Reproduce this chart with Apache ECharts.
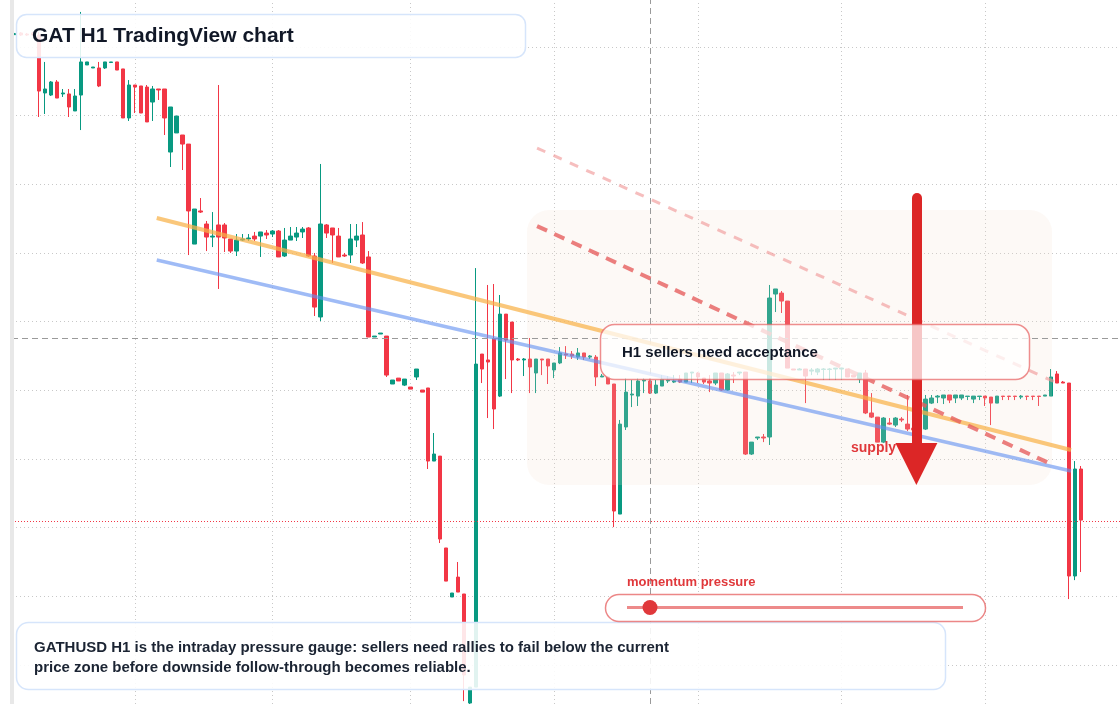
<!DOCTYPE html>
<html><head><meta charset="utf-8">
<script src="https://cdn.jsdelivr.net/npm/echarts@6/dist/echarts.min.js"></script>
<style>html,body{margin:0;padding:0;background:#fff}#c{width:1120px;height:704px}</style>
</head><body><div id="c"></div>
<script>
// ---- data (GATHUSD, H1 candles) ----
const openP = [
14.090,14.102,14.094,14.102,14.087,13.665,13.650,13.745,13.658,13.658,
13.534,13.650,13.869,13.847,13.847,13.847,13.887,13.891,13.840,13.483,
13.723,13.716,13.708,13.599,13.694,13.694,13.235,13.374,13.359,13.293,
12.565,12.806,12.711,12.616,12.704,12.704,12.602,12.514,12.594,12.602,
12.623,12.623,12.645,12.638,12.660,12.478,12.594,12.616,12.653,12.682,
12.478,12.034,12.704,12.682,12.623,12.485,12.485,12.594,12.631,12.471,
11.888,11.910,11.895,11.546,11.589,11.538,11.524,11.597,11.502,11.517,
10.985,11.021,10.352,9.995,10.140,10.017,9.223,9.339,11.764,11.721,
11.873,11.458,12.055,11.997,11.728,11.721,11.728,11.626,11.728,11.728,
11.648,11.699,11.764,11.764,11.742,11.772,11.742,11.742,11.597,11.597,
11.546,10.599,11.233,11.466,11.458,11.568,11.568,11.480,11.531,11.568,
11.560,11.582,11.560,11.626,11.626,11.589,11.568,11.553,11.626,11.502,
11.611,11.626,11.633,11.036,11.153,11.160,11.160,12.201,12.208,12.150,
11.655,11.648,11.655,11.640,11.633,11.652,11.652,11.655,11.655,11.655,
11.611,11.582,11.626,11.335,11.305,11.123,11.262,11.247,11.291,11.254,
11.225,11.211,11.218,11.407,11.451,11.444,11.466,11.444,11.444,11.455,
11.436,11.455,11.458,11.451,11.407,11.458,11.458,11.458,11.451,11.458,
11.458,11.458,11.458,11.458,11.619,11.560,11.553,10.148,10.927];
const closeP = [
14.096,14.087,14.087,14.087,13.679,13.694,13.745,13.628,13.665,13.563,
13.643,13.891,13.891,13.854,13.716,13.891,13.891,13.832,13.483,13.723,
13.708,13.519,13.454,13.694,13.687,13.483,13.563,13.497,13.293,12.806,
12.820,12.798,12.616,12.623,12.616,12.609,12.514,12.594,12.602,12.609,
12.602,12.653,12.631,12.660,12.471,12.594,12.623,12.645,12.674,12.478,
12.106,12.711,12.645,12.631,12.471,12.478,12.602,12.623,12.427,11.888,
11.895,11.917,11.611,11.575,11.568,11.582,11.509,11.655,11.487,10.985,
11.036,10.417,10.111,10.024,10.031,9.427,9.339,11.691,11.655,11.706,
11.364,12.055,11.866,11.721,11.721,11.728,11.670,11.728,11.721,11.677,
11.699,11.772,11.757,11.750,11.772,11.742,11.750,11.597,11.604,11.546,
10.621,11.254,11.487,11.473,11.568,11.575,11.480,11.538,11.582,11.575,
11.568,11.560,11.626,11.633,11.597,11.560,11.553,11.626,11.502,11.619,
11.604,11.633,11.036,11.123,11.160,11.153,12.172,12.238,12.150,11.662,
11.648,11.655,11.604,11.648,11.655,11.655,11.655,11.662,11.662,11.597,
11.597,11.626,11.335,11.305,11.123,11.298,11.254,11.298,11.284,11.218,
11.211,11.225,11.436,11.444,11.458,11.466,11.429,11.466,11.466,11.458,
11.458,11.458,11.444,11.407,11.458,11.455,11.455,11.455,11.458,11.455,
11.455,11.455,11.466,11.597,11.553,11.553,10.148,10.927,10.555];
const lowP = [
14.087,14.080,14.080,14.087,13.490,13.512,13.643,13.628,13.636,13.490,
13.534,13.395,13.869,13.847,13.708,13.840,13.883,13.832,13.483,13.461,
13.519,13.519,13.454,13.461,13.614,13.359,13.126,13.374,13.104,12.485,
12.565,12.791,12.514,12.543,12.238,12.507,12.500,12.478,12.587,12.587,
12.587,12.471,12.602,12.616,12.471,12.471,12.594,12.587,12.609,12.471,
12.041,12.004,12.609,12.427,12.471,12.471,12.427,12.543,12.420,11.888,
11.888,11.910,11.597,11.546,11.568,11.531,11.509,11.575,11.487,10.927,
10.985,10.388,10.111,9.995,10.031,9.237,9.216,9.339,11.553,11.298,
11.218,11.451,11.582,11.480,11.713,11.604,11.480,11.480,11.611,11.546,
11.589,11.691,11.728,11.728,11.721,11.721,11.728,11.531,11.597,11.546,
10.504,10.599,11.211,11.378,11.386,11.480,11.473,11.473,11.531,11.553,
11.553,11.553,11.560,11.553,11.553,11.546,11.487,11.538,11.495,11.495,
11.553,11.611,11.029,11.029,11.138,11.123,11.102,12.070,12.063,11.662,
11.648,11.648,11.407,11.611,11.611,11.575,11.575,11.575,11.575,11.597,
11.597,11.553,11.327,11.298,11.123,11.116,11.247,11.233,11.269,11.203,
11.196,11.203,11.211,11.400,11.407,11.400,11.407,11.407,11.429,11.429,
11.407,11.429,11.386,11.247,11.407,11.429,11.429,11.429,11.436,11.429,
11.429,11.386,11.458,11.458,11.553,11.553,9.980,10.118,10.177];
const highP = [
14.102,14.109,14.102,14.109,14.109,13.891,13.752,13.759,13.694,13.694,
13.694,14.255,13.891,13.854,13.891,13.891,13.891,13.891,13.840,13.759,
13.723,13.716,13.723,13.716,13.694,13.694,13.563,13.497,13.359,13.293,
12.820,12.900,12.733,12.798,13.723,12.718,12.602,12.638,12.638,12.638,
12.653,12.653,12.667,12.667,12.667,12.682,12.689,12.689,12.689,12.689,
12.500,13.148,12.711,12.682,12.682,12.500,12.711,12.711,12.725,12.514,
11.895,11.917,11.895,11.575,11.589,11.582,11.524,11.655,11.502,11.517,
11.189,11.021,10.352,10.024,10.250,10.017,9.339,12.390,11.764,12.267,
12.274,12.194,12.055,11.997,11.735,11.735,11.881,11.728,11.728,11.728,
11.699,11.815,11.822,11.786,11.808,11.772,11.757,11.757,11.619,11.597,
11.546,11.284,11.589,11.575,11.589,11.589,11.589,11.575,11.611,11.604,
11.611,11.611,11.626,11.633,11.633,11.589,11.611,11.626,11.626,11.626,
11.633,11.633,11.633,11.123,11.160,11.182,12.267,12.238,12.223,12.150,
11.655,11.662,11.655,11.662,11.662,11.662,11.662,11.662,11.662,11.655,
11.611,11.626,11.648,11.480,11.305,11.305,11.298,11.305,11.305,11.466,
11.247,11.240,11.466,11.466,11.466,11.466,11.466,11.466,11.466,11.458,
11.458,11.458,11.458,11.451,11.458,11.458,11.458,11.458,11.466,11.458,
11.458,11.458,11.466,11.655,11.640,11.568,11.553,10.985,10.949];

// day separators (candle index), crosshair and levels
const dayBreaks = [20, 43, 66, 90, 114, 138, 162];
const priceTicks = [9.5, 10.0, 10.5, 11.0, 11.5, 12.0, 12.5, 13.0, 13.5, 14.0];
const crosshairIndex = 106;
const crosshairPrice = 11.881;
const lastPrice = 10.555;
// trend lines: [candle index, price]
const upperTrend = [[23.67, 12.755], [176.33, 11.065]];
const lowerTrend = [[23.67, 12.449], [176.33, 10.912]];
const supplyDashed = [[87.17, 12.696], [173.0, 10.963]];
const outerDashed = [[87.17, 13.264], [173.67, 11.560]];
const arrowPath = [[150.5, 12.900], [150.5, 10.963]];
// visible price range
const priceMin = 9.216, priceMax = 14.342;
const slotCount = 185;

const categories = [];
const t0 = Date.UTC(2025, 4, 11, 4);
for (let i = 0; i < slotCount; i++) {
  const d = new Date(t0 + i * 3600000);
  categories.push((d.getUTCMonth()+1) + '-' + d.getUTCDate() + ' ' + String(d.getUTCHours()).padStart(2,'0') + ':00');
}
const candles = openP.map((o, i) => [o, closeP[i], lowP[i], highP[i]]);

const chart = echarts.init(document.getElementById('c'), null, {renderer: 'canvas'});
const FONT = '"Liberation Sans", Arial, sans-serif';
const noLabel = {show: false};
const gridStyle = {color: '#c8c8c8', width: 1, type: [1, 3]};
function mlBase(z) {
  return {silent: true, symbol: ['none', 'none'], label: noLabel, z: z, animation: false, emphasis: {disabled: true}};
}
chart.setOption({
  animation: false,
  backgroundColor: '#ffffff',
  grid: {left: 12, right: -2, top: 0, bottom: 0},
  xAxis: [
    {type: 'category', data: categories, show: false, boundaryGap: true},
    {type: 'value', min: -0.5, max: slotCount - 0.5, show: false}
  ],
  yAxis: {
    type: 'value', min: priceMin, max: priceMax, scale: true, position: 'right',
    axisLine: {show: false}, axisTick: {show: false}, axisLabel: {show: false},
    splitLine: {show: false}
  },
  series: [
    { // price / day grid lines
      type: 'line', xAxisIndex: 1, data: [[-0.5, priceMin]], symbol: 'none', silent: true, z: 1,
      lineStyle: {width: 0},
      markLine: Object.assign(mlBase(1), {
        lineStyle: gridStyle,
        data: dayBreaks.map(v => ({xAxis: v})).concat(priceTicks.map(v => ({yAxis: v})))
      })
    },
    {
      type: 'candlestick', name: 'GATHUSD', data: candles, z: 2, barWidth: 4,
      itemStyle: {color: '#089981', color0: '#f23645', borderColor: '#089981', borderColor0: '#f23645', borderWidth: 1},
      silent: true
    },
    {
      type: 'line', xAxisIndex: 1, data: upperTrend, symbol: 'none', silent: true, z: 4,
      lineStyle: {color: 'rgba(248,178,72,0.72)', width: 4}
    },
    {
      type: 'line', xAxisIndex: 1, data: lowerTrend, symbol: 'none', silent: true, z: 4,
      lineStyle: {color: 'rgba(100,145,240,0.62)', width: 3.5}
    },
    {
      type: 'line', xAxisIndex: 1, data: supplyDashed, symbol: 'none', silent: true, z: 4,
      lineStyle: {color: 'rgba(230,95,95,0.8)', width: 4, type: [11, 8]}
    },
    {
      type: 'line', xAxisIndex: 1, data: outerDashed, symbol: 'none', silent: true, z: 4,
      lineStyle: {color: 'rgba(240,150,150,0.62)', width: 3, type: [9, 9]}
    },
    { // crosshair + last price
      type: 'line', xAxisIndex: 1, data: [[-0.5, priceMin]], symbol: 'none', silent: true, z: 4,
      lineStyle: {width: 0},
      markLine: Object.assign(mlBase(4), {
        data: [
          {xAxis: crosshairIndex, lineStyle: {color: '#9a9a9a', width: 1, type: [6, 4]}},
          {yAxis: crosshairPrice, lineStyle: {color: '#9a9a9a', width: 1, type: [6, 4]}},
          {yAxis: lastPrice, lineStyle: {color: '#f23645', width: 1, type: [1, 2]}}
        ]
      })
    },
    { // arrow
      type: 'line', xAxisIndex: 1, data: [[-0.5, priceMin]], symbol: 'none', silent: true, z: 6,
      lineStyle: {width: 0},
      markLine: Object.assign(mlBase(6), {
        symbol: ['none', 'triangle'], symbolSize: 42,
        lineStyle: {color: '#dc2626', width: 10, type: 'solid', cap: 'round'},
        itemStyle: {color: '#dc2626'},
        data: [[{coord: arrowPath[0]}, {coord: arrowPath[1]}]]
      })
    }
  ],
  graphic: [
    {type: 'rect', z: 3, silent: true, shape: {x: 527, y: 210, width: 525, height: 275, r: 22},
      style: {fill: 'rgba(245,222,205,0.18)'}},
    {type: 'text', z: 5, silent: true, style: {text: 'supply zone', x: 851, y: 448, verticalAlign: 'middle',
      font: 'bold 14px ' + FONT, fill: '#e0383b'}},
    // label box
    {type: 'rect', z: 10, silent: true, shape: {x: 600.5, y: 324.5, width: 429, height: 55, r: 14},
      style: {fill: 'rgba(255,255,255,0.74)', stroke: 'rgba(232,100,100,0.72)', lineWidth: 1.5}},
    {type: 'text', z: 11, silent: true, style: {text: 'H1 sellers need acceptance', x: 622, y: 353, verticalAlign: 'middle',
      font: 'bold 15px ' + FONT, fill: '#111827'}},
    // title
    {type: 'rect', z: 10, silent: true, shape: {x: 16.5, y: 14.5, width: 509, height: 43, r: 10},
      style: {fill: 'rgba(255,255,255,0.88)', stroke: '#d6e5fb', lineWidth: 1.5}},
    {type: 'text', z: 11, silent: true, style: {text: 'GAT H1 TradingView chart', x: 32, y: 36.5, verticalAlign: 'middle',
      font: 'bold 21px ' + FONT, fill: '#111827'}},
    // bottom note
    {type: 'rect', z: 10, silent: true, shape: {x: 16.5, y: 622.5, width: 929, height: 67, r: 12},
      style: {fill: 'rgba(255,255,255,0.88)', stroke: '#d6e5fb', lineWidth: 1.5}},
    {type: 'text', z: 11, silent: true, style: {text: 'GATHUSD H1 is the intraday pressure gauge: sellers need rallies to fail below the current',
      x: 34, y: 647.5, verticalAlign: 'middle', font: 'bold 15px ' + FONT, fill: '#1b2433'}},
    {type: 'text', z: 11, silent: true, style: {text: 'price zone before downside follow-through becomes reliable.',
      x: 34, y: 667.5, verticalAlign: 'middle', font: 'bold 15px ' + FONT, fill: '#1b2433'}},
    // momentum widget
    {type: 'text', z: 11, silent: true, style: {text: 'momentum pressure', x: 627, y: 582, verticalAlign: 'middle',
      font: 'bold 13px ' + FONT, fill: '#e0383b'}},
    {type: 'rect', z: 10, silent: true, shape: {x: 605.5, y: 594.5, width: 380, height: 27, r: 13.5},
      style: {fill: '#ffffff', stroke: 'rgba(230,95,95,0.75)', lineWidth: 1.5}},
    {type: 'line', z: 11, silent: true, shape: {x1: 627, y1: 607.5, x2: 963, y2: 607.5},
      style: {stroke: 'rgba(232,105,105,0.78)', lineWidth: 3}},
    {type: 'circle', z: 12, silent: true, shape: {cx: 650, cy: 607.5, r: 7.5}, style: {fill: '#e0383b'}},
    // left rail
    {type: 'rect', z: 13, silent: true, shape: {x: 10, y: 0, width: 4, height: 704}, style: {fill: '#e8e8e8'}}
  ]
});
</script>
</body></html>
